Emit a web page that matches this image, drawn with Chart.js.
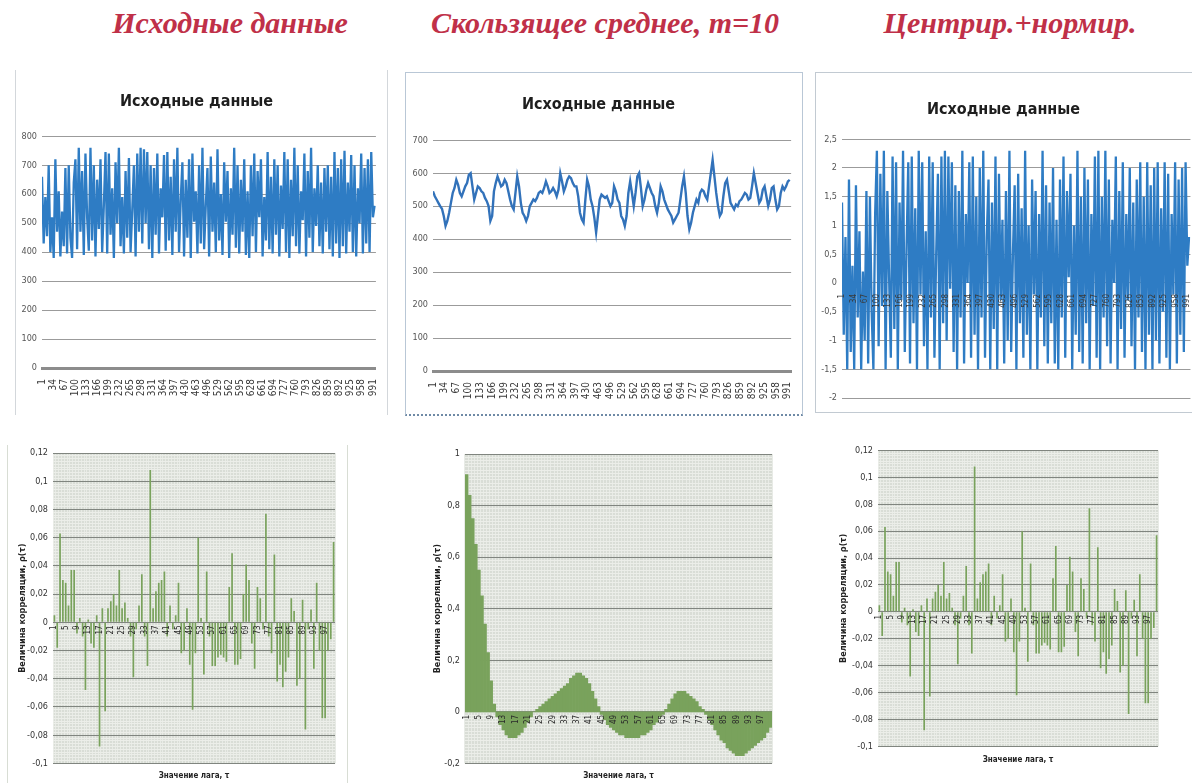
<!DOCTYPE html>
<html lang="ru">
<head>
<meta charset="utf-8">
<title>Исходные данные и коррелограммы</title>
<script src="https://cdn.jsdelivr.net/npm/chart.js@4.4.1/dist/chart.umd.min.js"></script>
<style>
    html, body { margin: 0; padding: 0; background: #fff; }
    body { width: 1192px; height: 783px; position: relative; overflow: hidden; }
    .head { position: absolute; top: 6px; font: italic bold 30px "Liberation Serif", serif; color: #c03048; white-space: nowrap; transform: translateX(-50%); }
    .frame { position: absolute; box-sizing: border-box; }
    .box { position: absolute; }
</style>
</head>
<body>
<div class="head" style="left:230px">Исходные данные</div>
<div class="head" style="left:605px">Скользящее среднее, m=10</div>
<div class="head" style="left:1010px">Центрир.+нормир.</div>

<div class="frame" style="left:15px;top:70px;width:373px;height:345px;border-left:1px solid #d3d7db;border-right:1px solid #d3d7db"></div>
<div class="frame" style="left:405px;top:72px;width:398px;height:344px;border:1px solid #b9c7d6;border-bottom:2px dotted #6f8aa6"></div>
<div class="frame" style="left:815px;top:72px;width:400px;height:341px;border:1px solid #c2cad2"></div>
<div class="frame" style="left:7px;top:445px;width:341px;height:340px;border-left:1px solid #d8ddd4;border-right:1px solid #d8ddd4"></div>

<div class="box" style="left:15px;top:68px;width:373px;height:350px"><canvas id="rawChart"></canvas></div>
<div class="box" style="left:405px;top:72px;width:398px;height:343px"><canvas id="smoothChart"></canvas></div>
<div class="box" style="left:815px;top:72px;width:385px;height:340px"><canvas id="normChart"></canvas></div>
<div class="box" style="left:7px;top:440px;width:340px;height:343px"><canvas id="acfRawChart"></canvas></div>
<div class="box" style="left:405px;top:440px;width:400px;height:343px"><canvas id="acfSmoothChart"></canvas></div>
<div class="box" style="left:815px;top:440px;width:377px;height:343px"><canvas id="acfNormChart"></canvas></div>

<script>
// x axis labels of the time series (every 33rd observation)
const TIME_TICKS = [1, 34, 67, 100, 133, 166, 199, 232, 265, 298, 331, 364, 397, 430, 463, 496,
    529, 562, 595, 628, 661, 694, 727, 760, 793, 826, 859, 892, 925, 958, 991];
const SAMPLE_STEP = 5;

const RAW_SERIES = [
    660, 430, 590, 455, 700, 400, 520, 380, 720, 470, 610, 385, 540, 420, 690, 395, 700, 450, 380, 640,
    720, 410, 760, 470, 680, 390, 740, 520, 405, 760, 440, 700, 385, 650, 480, 720, 400, 560, 745, 395,
    740, 460, 620, 380, 710, 500, 760, 420, 590, 395, 680, 450, 725, 400, 545, 700, 385, 740, 470, 760,
    430, 755, 500, 745, 410, 700, 380, 690, 460, 740, 395, 620, 520, 735, 405, 745, 440, 660, 390, 720,
    470, 760, 400, 580, 710, 385, 650, 450, 720, 380, 740, 505, 610, 395, 700, 430, 760, 410, 560, 690,
    385, 730, 470, 640, 400, 755, 440, 600, 390, 710, 505, 680, 380, 620, 460, 760, 415, 700, 395, 650,
    470, 720, 390, 610, 380, 700, 455, 740, 400, 680, 520, 720, 385, 590, 440, 745, 410, 660, 395, 720,
    460, 700, 385, 630, 480, 745, 400, 720, 380, 650, 455, 760, 420, 700, 395, 610, 510, 740, 385, 680,
    450, 760, 400, 620, 490, 700, 420, 640, 395, 690, 470, 700, 410, 660, 385, 745, 430, 690, 380, 720,
    420, 750, 395, 640, 470, 735, 400, 700, 385, 620, 500, 740, 395, 690, 430, 720, 400, 745, 520, 560
];

const SMOOTH_SERIES = [
    545, 530, 520, 510, 500, 492, 470, 440, 455, 480, 510, 540, 555, 580, 565, 540, 530, 545, 560, 570,
    595, 600, 560, 520, 540, 560, 555, 545, 540, 525, 515, 500, 455, 470, 545, 570, 590, 575, 560, 565,
    580, 570, 545, 520, 500, 490, 540, 590, 560, 510, 480, 470, 455, 470, 500, 510, 520, 515, 525, 540,
    545, 540, 555, 575, 560, 540, 545, 555, 545, 530, 550, 600, 575, 545, 560, 580, 590, 585, 570, 560,
    560, 530, 480, 460, 450, 520, 580, 560, 520, 500, 465, 420, 470, 520, 535, 530, 525, 530, 515, 500,
    510, 560, 545, 520, 510, 470, 460, 440, 470, 540, 575, 540, 500, 540, 590, 600, 555, 500, 520, 550,
    570, 555, 540, 530, 500, 480, 510, 560, 545, 520, 505, 490, 480, 470, 450, 460, 470, 480, 520, 560,
    590, 540, 470, 430, 450, 480, 500, 520, 510, 540, 550, 545, 530, 520, 560, 600, 640, 590, 540, 500,
    470, 480, 530, 570, 580, 545, 510, 500, 490, 505, 500, 515, 520, 530, 540, 535, 520, 525, 560, 600,
    570, 540, 510, 520, 550, 560, 530, 500, 520, 555, 560, 520, 490, 500, 540, 560, 550, 560, 575, 580
];

const NORM_SERIES = [
    1.4, -0.9, 0.8, -1.5, 1.8, -1.2, 0.3, -1.5, 1.7, -0.6, 0.9, -1.5, 0.2, -1.0, 1.6, -1.4, 1.5, -0.5, -1.5, 1.2,
    2.3, -1.1, 1.9, -0.4, 2.3, -1.5, 1.6, 0.1, -1.3, 2.2, -0.8, 2.1, -1.5, 1.4, -0.3, 2.3, -1.2, 0.6, 2.1, -1.4,
    2.2, -0.7, 1.3, -1.5, 2.3, -0.2, 2.1, -1.1, 0.9, -1.5, 2.2, -0.6, 2.1, -1.3, 0.5, 1.9, -1.5, 2.2, -0.7, 2.3,
    -1.0, 2.2, -0.1, 2.1, -1.2, 1.7, -1.5, 1.6, -0.6, 2.3, -1.4, 1.2, 0.0, 2.1, -1.3, 2.2, -0.9, 1.5, -1.5, 2.0,
    -0.6, 2.3, -1.3, 0.8, 1.8, -1.5, 1.4, -0.8, 2.2, -1.5, 1.9, -0.3, 1.1, -1.4, 1.6, -1.0, 2.3, -1.2, 0.5, 1.7,
    -1.5, 1.9, -0.7, 1.3, -1.3, 2.3, -0.9, 1.0, -1.5, 1.8, -0.2, 1.6, -1.5, 1.2, -0.6, 2.3, -1.1, 1.7, -1.4, 1.4,
    -0.7, 2.0, -1.4, 1.1, -1.5, 1.8, -0.6, 2.2, -1.3, 1.6, 0.1, 1.9, -1.5, 1.0, -0.9, 2.3, -1.2, 1.5, -1.4, 2.0,
    -0.7, 1.8, -1.5, 1.2, -0.4, 2.2, -1.3, 2.3, -1.5, 1.5, -0.6, 2.3, -1.1, 1.8, -1.4, 1.1, 0.0, 2.2, -1.5, 1.6,
    -0.8, 2.1, -1.3, 1.2, -0.3, 2.0, -1.1, 1.4, -1.5, 1.8, -0.6, 2.1, -1.2, 1.5, -1.5, 2.1, -0.9, 1.7, -1.5, 2.0,
    -1.0, 2.1, -1.4, 1.3, -0.5, 2.1, -1.3, 1.9, -1.5, 1.2, -0.2, 2.1, -1.4, 1.8, -0.9, 2.0, -1.2, 2.1, 0.3, 0.8
];

// lags of the correlograms
const LAGS = Array.from({ length: 100 }, (_, i) => i + 1);

const ACF_RAW = [
    0.005, -0.018, 0.063, 0.03, 0.028, 0.012, 0.037, 0.037, -0.008, 0.003,
    -0.01, -0.048, 0.002, -0.015, -0.018, 0.005, -0.088, 0.01, -0.063, 0.01,
    0.015, 0.02, 0.012, 0.037, 0.01, 0.014, 0.003, -0.01, -0.039, -0.005,
    0.012, 0.034, -0.01, -0.031, 0.108, 0.01, 0.022, 0.028, 0.03, 0.036,
    -0.01, 0.012, -0.005, 0.005, 0.028, -0.022, -0.02, 0.01, -0.03, -0.062,
    -0.022, 0.06, 0.003, -0.037, 0.036, -0.01, -0.031, -0.031, -0.025, -0.023,
    -0.025, -0.028, 0.025, 0.049, -0.03, -0.03, -0.026, 0.02, 0.041, 0.03,
    -0.015, -0.033, 0.025, 0.017, -0.005, 0.077, -0.01, -0.022, 0.048, -0.042,
    -0.03, -0.046, -0.035, -0.025, 0.017, 0.008, -0.045, -0.04, 0.016, -0.076,
    -0.005, 0.009, -0.033, 0.028, -0.02, -0.068, -0.068, -0.02, -0.012, 0.057
];

const ACF_SMOOTH = [
    0.92, 0.84, 0.75, 0.65, 0.55, 0.45, 0.34, 0.23, 0.12, 0.03,
    -0.02, -0.05, -0.07, -0.09, -0.1, -0.1, -0.1, -0.09, -0.08, -0.06,
    -0.04, -0.02, 0.0, 0.01, 0.02, 0.03, 0.04, 0.05, 0.06, 0.07,
    0.08, 0.09, 0.1, 0.11, 0.13, 0.14, 0.15, 0.15, 0.14, 0.13,
    0.11, 0.08, 0.05, 0.02, -0.01, -0.03, -0.05, -0.06, -0.07, -0.08,
    -0.09, -0.09, -0.1, -0.1, -0.1, -0.1, -0.1, -0.09, -0.09, -0.08,
    -0.07, -0.05, -0.04, -0.02, -0.01, 0.01, 0.03, 0.05, 0.07, 0.08,
    0.08, 0.08, 0.07, 0.06, 0.05, 0.04, 0.02, 0.01, -0.01, -0.03,
    -0.05, -0.07, -0.09, -0.11, -0.12, -0.14, -0.15, -0.16, -0.17, -0.17,
    -0.17, -0.16, -0.15, -0.14, -0.13, -0.12, -0.11, -0.1, -0.08, -0.06
];

// centring and normalising does not change the correlogram
const ACF_NORM = ACF_RAW.slice();

const TICK_FONT = "'Liberation Sans Narrow', 'DejaVu Sans Condensed', sans-serif";
const TITLE_FONT = "'DejaVu Sans Condensed', 'Liberation Sans', sans-serif";
const comma = v => String(Math.round(v * 1000) / 1000).replace('.', ',');

const plotBg = {
    id: 'plotBg',
    beforeDraw(chart, args, opts) {
        if (!opts.color) return;
        const { ctx, chartArea: a } = chart;
        ctx.save();
        ctx.fillStyle = opts.color;
        ctx.fillRect(a.left, a.top, a.width, a.height);
        ctx.restore();
    }
};

function seriesChart(id, values, cfg) {
    new Chart(document.getElementById(id), {
        type: 'line',
        data: {
            datasets: [{
                data: values.map((y, i) => ({ x: 1 + i * SAMPLE_STEP, y })),
                borderColor: cfg.color,
                borderWidth: cfg.lineWidth,
                pointRadius: 0,
                tension: 0
            }]
        },
        options: {
            responsive: true,
            maintainAspectRatio: false,
            animation: false,
            layout: { padding: cfg.padding },
            plugins: {
                legend: { display: false },
                tooltip: { enabled: false },
                title: {
                    display: true,
                    text: 'Исходные данные',
                    color: '#1e1e1e',
                    font: { family: TITLE_FONT, size: 16, weight: 'bold' },
                    padding: cfg.titlePad
                }
            },
            scales: {
                x: {
                    type: 'linear',
                    min: 1,
                    max: 1000,
                    position: cfg.xPos,
                    afterBuildTicks: s => { s.ticks = TIME_TICKS.map(v => ({ value: v })); },
                    afterFit: s => { if (cfg.xHeight) s.height = cfg.xHeight; },
                    grid: { display: false },
                    border: { display: cfg.xBorder, color: '#8c8c8c', width: 3 },
                    ticks: {
                        autoSkip: false, minRotation: 90, maxRotation: 90, padding: 3, z: 1,
                        color: '#3a3a3a', font: { family: TICK_FONT, size: cfg.xFont }
                    }
                },
                y: {
                    min: cfg.min,
                    max: cfg.max,
                    afterFit: s => { s.width = cfg.yWidth; },
                    border: { display: false },
                    grid: { color: '#9b9b9b', drawTicks: false },
                    ticks: {
                        stepSize: cfg.step, padding: 5, color: '#555',
                        font: { family: TICK_FONT, size: 9 },
                        callback: v => comma(v)
                    }
                }
            }
        }
    });
}

function acfChart(id, values, cfg) {
    const isMajor = v => Math.abs(v / cfg.major - Math.round(v / cfg.major)) < 1e-6;
    new Chart(document.getElementById(id), {
        type: 'bar',
        data: {
            labels: LAGS,
            datasets: [{
                data: values,
                backgroundColor: '#79a25c',
                barPercentage: cfg.barPct,
                categoryPercentage: 1
            }]
        },
        plugins: [plotBg],
        options: {
            responsive: true,
            maintainAspectRatio: false,
            animation: false,
            layout: { padding: cfg.padding },
            plugins: {
                legend: { display: false },
                tooltip: { enabled: false },
                plotBg: { color: '#d9ddd6' },
                title: {
                    display: true,
                    position: 'bottom',
                    fullSize: false,
                    text: 'Значение лага, τ',
                    color: '#222',
                    font: { family: TITLE_FONT, size: 8, weight: 'bold' },
                    padding: cfg.xTitlePad
                }
            },
            scales: {
                x: {
                    position: { y: 0 },
                    offset: true,
                    grid: { offset: true, color: '#e8ebe6', drawTicks: false },
                    border: { display: false },
                    ticks: {
                        autoSkip: false, minRotation: 90, maxRotation: 90, padding: 3, z: 1,
                        color: '#2a2a2a', font: { family: TICK_FONT, size: 8 },
                        callback: (v, i) => (i % 4 === 0 ? LAGS[i] : '')
                    }
                },
                y: {
                    min: cfg.min,
                    max: cfg.max,
                    afterFit: s => { s.width = cfg.yWidth; },
                    border: { display: false },
                    grid: { drawTicks: false, color: c => (isMajor(c.tick.value) ? '#80857f' : '#eceee9') },
                    ticks: {
                        stepSize: cfg.minor, autoSkip: false, padding: 5, color: '#333',
                        font: { family: TICK_FONT, size: 9 },
                        callback: v => (isMajor(v) ? comma(v) : '')
                    },
                    title: {
                        display: true,
                        text: 'Величина корреляции, ρ(τ)',
                        color: '#222',
                        font: { family: TITLE_FONT, size: 9, weight: 'bold' },
                        padding: { top: 4, bottom: 0 }
                    }
                }
            }
        }
    });
}

document.addEventListener('DOMContentLoaded', () => {
    seriesChart('rawChart', RAW_SERIES, {
        color: '#2e7cc4', lineWidth: 2.3, min: 0, max: 800, step: 100,
        padding: { left: 0, right: 10, top: 0, bottom: 5 }, titlePad: { top: 24, bottom: 25 },
        xPos: 'bottom', xHeight: 45, xBorder: true, yWidth: 27, xFont: 10
    });
    seriesChart('smoothChart', SMOOTH_SERIES, {
        color: '#3272ba', lineWidth: 2.4, min: 0, max: 700, step: 100,
        padding: { left: 0, right: 11, top: 0, bottom: 4 }, titlePad: { top: 23, bottom: 26 },
        xPos: 'bottom', xHeight: 40, xBorder: true, yWidth: 28, xFont: 10
    });
    seriesChart('normChart', NORM_SERIES, {
        color: '#2e7cc4', lineWidth: 2.3, min: -2, max: 2.5, step: 0.5,
        padding: { left: 0, right: 8, top: 0, bottom: 14 }, titlePad: { top: 28, bottom: 20 },
        xPos: { y: 0 }, xHeight: 0, xBorder: false, yWidth: 27, xFont: 8
    });

    acfChart('acfRawChart', ACF_RAW, {
        min: -0.1, max: 0.12, minor: 0.002, major: 0.02, barPct: 0.6,
        padding: { left: 6, right: 12, top: 13, bottom: 0 }, yWidth: 40,
        xTitlePad: { top: 8, bottom: 2 }
    });
    acfChart('acfSmoothChart', ACF_SMOOTH, {
        min: -0.2, max: 1, minor: 0.0125, major: 0.2, barPct: 1,
        padding: { left: 23, right: 33, top: 14, bottom: 0 }, yWidth: 37,
        xTitlePad: { top: 8, bottom: 2 }
    });
    acfChart('acfNormChart', ACF_NORM, {
        min: -0.1, max: 0.12, minor: 0.002, major: 0.02, barPct: 0.6,
        padding: { left: 19, right: 34, top: 10, bottom: 0 }, yWidth: 44,
        xTitlePad: { top: 9, bottom: 18 }
    });
});
</script>
</body>
</html>
